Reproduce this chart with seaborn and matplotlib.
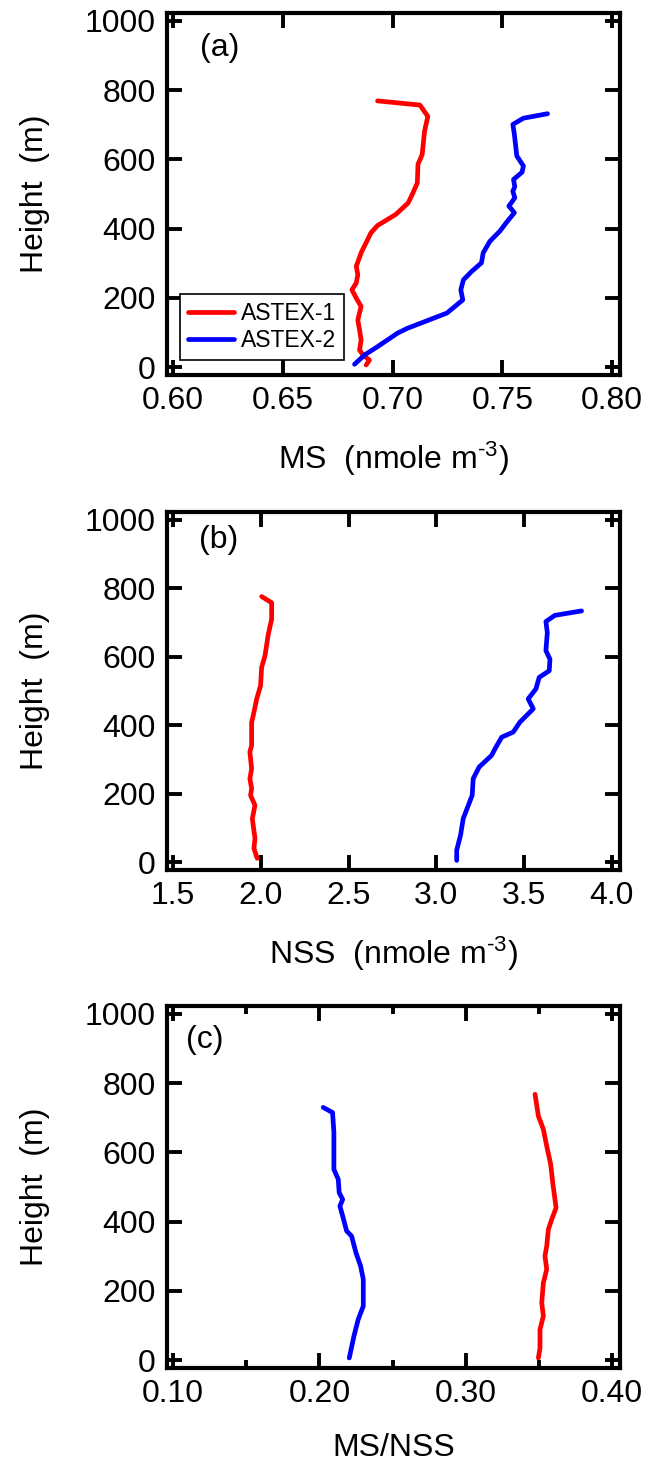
import numpy as np
import pandas as pd
import seaborn as sns
import matplotlib
matplotlib.use("Agg")
import matplotlib.pyplot as plt

# ASTEX profiles: height (m) vs concentration / ratio
cases = ["ASTEX-1", "ASTEX-2"]
colors = {"ASTEX-1": "#ff0000", "ASTEX-2": "#0000ff"}

# (a) MS (nmole m-3)
ms_h1 = [769, 757, 724, 682, 614, 586, 532, 499, 474, 441, 409, 388, 330, 291,
         267, 243, 223, 199, 175, 136, 107, 78, 49, 35, 20, 6]
ms_1 = [0.6932, 0.7125, 0.7161, 0.7146, 0.7135, 0.7116, 0.7113, 0.7090, 0.7071,
        0.7015, 0.6932, 0.6902, 0.6857, 0.6835, 0.6842, 0.6835, 0.6815, 0.6835,
        0.6857, 0.6842, 0.6850, 0.6857, 0.6850, 0.6865, 0.6895, 0.6880]
ms_h2 = [732, 719, 701, 672, 610, 581, 563, 542, 521, 508, 489, 465, 446, 417,
         392, 363, 330, 301, 276, 252, 223, 194, 156, 112, 98, 59, 35, 8]
ms_2 = [0.7706, 0.7596, 0.7548, 0.7555, 0.7566, 0.7596, 0.7590, 0.7551, 0.7557,
        0.7548, 0.7557, 0.7530, 0.7555, 0.7518, 0.7488, 0.7443, 0.7413, 0.7405,
        0.7360, 0.7323, 0.7311, 0.7320, 0.7248, 0.7068, 0.7023, 0.6932, 0.6873,
        0.6827]

# (b) NSS (nmole m-3)
nss_h1 = [776, 758, 710, 666, 603, 569, 516, 477, 428, 409, 341, 322, 273, 244,
          215, 195, 166, 127, 69, 40, 11]
nss_1 = [2.005, 2.062, 2.062, 2.043, 2.024, 2.005, 1.999, 1.977, 1.957, 1.948,
         1.948, 1.938, 1.948, 1.938, 1.948, 1.942, 1.967, 1.952, 1.967, 1.961,
         1.980]
nss_h2 = [734, 721, 703, 671, 618, 593, 559, 540, 506, 477, 448, 409, 380, 365,
          331, 312, 278, 244, 195, 127, 79, 35, 5]
nss_2 = [3.827, 3.675, 3.624, 3.632, 3.624, 3.647, 3.643, 3.586, 3.567, 3.523,
         3.552, 3.476, 3.438, 3.372, 3.334, 3.315, 3.244, 3.210, 3.204, 3.153,
         3.138, 3.116, 3.116]

# (c) MS/NSS
ratio_h1 = [768, 705, 667, 618, 566, 513, 440, 406, 377, 329, 300, 262, 223,
            165, 127, 88, 35, 6]
ratio_1 = [0.3474, 0.3497, 0.3531, 0.3554, 0.3581, 0.3595, 0.3618, 0.3588,
           0.3565, 0.3554, 0.3542, 0.3554, 0.3531, 0.3520, 0.3531, 0.3508,
           0.3508, 0.3497]
ratio_h2 = [730, 715, 657, 551, 522, 484, 464, 445, 416, 373, 358, 310, 271,
            233, 156, 117, 69, 6]
ratio_2 = [0.2026, 0.2090, 0.2099, 0.2099, 0.2129, 0.2135, 0.2159, 0.2140,
           0.2159, 0.2186, 0.2220, 0.2250, 0.2282, 0.2300, 0.2300, 0.2265,
           0.2236, 0.2204]

ms_ticks = [0.60, 0.65, 0.70, 0.75, 0.80]
nss_ticks = [1.5, 2.0, 2.5, 3.0, 3.5, 4.0]
ratio_ticks = [0.10, 0.20, 0.30, 0.40]
ratio_minor = [0.15, 0.25, 0.35]
height_ticks = [0, 200, 400, 600, 800, 1000]


def make_df(h1, v1, h2, v2):
    return pd.concat([
        pd.DataFrame({"height": h1, "value": v1, "case": cases[0]}),
        pd.DataFrame({"height": h2, "value": v2, "case": cases[1]}),
    ], ignore_index=True)


sns.set_theme(style="ticks")
plt.rcParams["font.family"] = ["Liberation Sans", "DejaVu Sans"]
plt.rcParams["mathtext.fontset"] = "custom"
plt.rcParams["mathtext.rm"] = "Liberation Sans"
plt.rcParams["mathtext.default"] = "regular"
plt.rcParams["text.color"] = "black"
plt.rcParams["axes.labelcolor"] = "black"

fig = plt.figure(figsize=(6.49, 14.73), dpi=100)
W, H = 649, 1473

unit = r" (nmole m$^{\text{-}3}$)"
panels = [
    dict(df=make_df(ms_h1, ms_1, ms_h2, ms_2), top=13, bot=375,
         xlim=(0.5973, 0.8036), ticks=ms_ticks, fmt="{:.2f}", minor=None,
         xlabel="MS " + unit, letter="(a)", lx=0.073, ly_px=33),
    dict(df=make_df(nss_h1, nss_1, nss_h2, nss_2), top=512, bot=870,
         xlim=(1.466, 4.046), ticks=nss_ticks, fmt="{:.1f}", minor=None,
         xlabel="NSS " + unit, letter="(b)", lx=0.071, ly_px=525),
    dict(df=make_df(ratio_h1, ratio_1, ratio_h2, ratio_2), top=1006, bot=1368,
         xlim=(0.0958, 0.4055), ticks=ratio_ticks, fmt="{:.2f}",
         minor=ratio_minor, xlabel="MS/NSS", letter="(c)", lx=0.041,
         ly_px=1025),
]

for i, p in enumerate(panels):
    ax = fig.add_axes([167 / W, 1 - p["bot"] / H, 453 / W,
                       (p["bot"] - p["top"]) / H])
    sns.lineplot(data=p["df"], x="value", y="height", hue="case",
                 palette=colors, sort=False, estimator=None, linewidth=3.4,
                 legend=(i == 0), ax=ax)
    ax.set_xlim(*p["xlim"])
    ax.set_ylim(-23, 1023)
    ax.set_xticks(p["ticks"])
    ax.set_xticklabels([p["fmt"].format(t) for t in p["ticks"]])
    if p["minor"]:
        ax.set_xticks(p["minor"], minor=True)
    ax.set_yticks(height_ticks)
    ax.set_yticklabels([str(t) for t in height_ticks])
    ax.tick_params(which="both", direction="in", top=True, right=True,
                   labelsize=23, pad=8, width=2.8, colors="black")
    ax.tick_params(which="major", length=11)
    ax.tick_params(which="minor", length=6)
    for s in ax.spines.values():
        s.set_linewidth(3)
        s.set_color("black")
    ax.set_xlabel(p["xlabel"], fontsize=23, color="black")
    ax.set_ylabel("Height  (m)", fontsize=23, color="black")
    ax.yaxis.set_label_coords((50 - 167) / 453, 0.5)
    ax.xaxis.set_label_coords(0.5, -0.18)
    ax.text(p["lx"], 1 - (p["ly_px"] - p["top"]) / (p["bot"] - p["top"]),
            p["letter"], transform=ax.transAxes, fontsize=23, va="top",
            ha="left", color="black")
    if i == 0:
        handles, labels = ax.get_legend_handles_labels()
        leg = ax.legend(handles, labels, loc="lower left",
                        bbox_to_anchor=(0.029, 0.041), borderaxespad=0,
                        fontsize=16.5, handlelength=2.0, handletextpad=0.3,
                        labelspacing=0.2, borderpad=0.35, fancybox=False,
                        framealpha=1, edgecolor="black")
        leg.get_frame().set_linewidth(1.2)
        for t in leg.get_texts():
            t.set_color("black")

fig.savefig("out.png", dpi=100)
